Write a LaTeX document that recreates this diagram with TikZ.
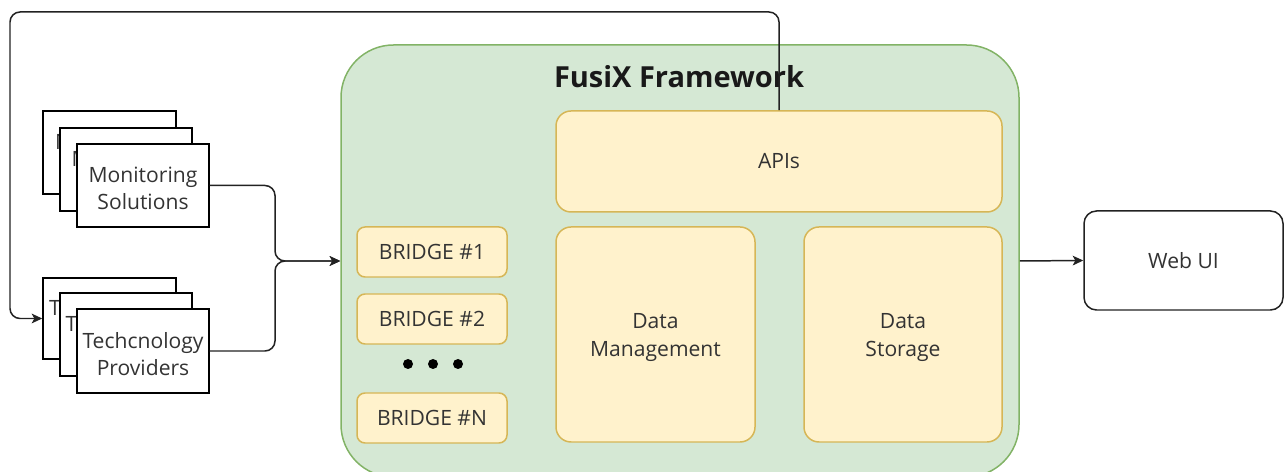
\documentclass[tikz,border=0pt]{standalone}
\usepackage{fontspec}
\setmainfont{Open Sans}
\usetikzlibrary{arrows.meta,fit}
\definecolor{frfill}{HTML}{D5E8D4}
\definecolor{frline}{HTML}{82B366}
\definecolor{ylfill}{HTML}{FFF2CC}
\definecolor{ylline}{HTML}{D6B656}
\definecolor{txt}{HTML}{333333}
\definecolor{ln}{HTML}{222222}
\tikzset{
  frame/.style={draw=frline, fill=frfill, line width=0.85pt, rounded corners=1.05cm, inner sep=0pt},
  ybox/.style={draw=ylline, fill=ylfill, line width=0.85pt, rounded corners=0.3cm, inner sep=0pt},
  bbox/.style={draw=ylline, fill=ylfill, line width=0.85pt, rounded corners=0.16cm, inner sep=0pt},
  sbox/.style={draw=black, fill=white, line width=0.85pt, inner sep=0pt},
  wbox/.style={draw=ln, fill=white, line width=0.85pt, rounded corners=0.25cm, inner sep=0pt},
  lbl/.style={text=txt, align=center, inner sep=0pt, font=\fontsize{12}{15.5}\selectfont},
  lbltwo/.style={lbl, yshift=-0.06cm},
  conn/.style={draw=ln, line width=0.85pt, rounded corners=0.2cm},
  tip/.style={-{Stealth[length=6pt,width=5.5pt,inset=1.5pt]}},
  dotn/.style={circle, fill=black, inner sep=0pt, minimum size=0.2cm},
}
\begin{document}
\begin{tikzpicture}[x=0.02cm,y=-0.02cm]
\useasboundingbox (0,0) rectangle (1284,472);
% framework
\node[frame, fit={(341,45) (1019,477)}] (fw) {};
\node[font=\fontsize{16.5}{20}\selectfont\bfseries, text=black!90] (title) at (679,77) {FusiX Framework};
\node[ybox, fit={(556,111) (1002,212)}, label={[lbl]center:APIs}] (api) {};
\node[ybox, fit={(556,227) (755,442)}, label={[lbltwo]center:{Data\\Management}}] (dm) {};
\node[ybox, fit={(804,227) (1002,442)}, label={[lbltwo]center:{Data\\Storage}}] (ds) {};
\node[bbox, fit={(357,227) (507,277)}, label={[lbl]center:{BRIDGE \#1}}] (b1) {};
\node[bbox, fit={(357,294) (507,344)}, label={[lbl]center:{BRIDGE \#2}}] (b2) {};
\node[bbox, fit={(357,393) (507,443)}, label={[lbl]center:{BRIDGE \#N}}] (bn) {};
\node[dotn] (d1) at (408,364) {};
\node[dotn] (d2) at (433,364) {};
\node[dotn] (d3) at (458,364) {};
% web UI
\node[wbox, fit={(1084,211) (1283,310)}, label={[lbl]center:{Web UI}}] (web) {};
% monitoring stack
\node[sbox, fit={(43,111) (176,194)}, label={[lbltwo]center:{Monitoring\\Solutions}}] (ma) {};
\node[sbox, fit={(60,128) (192,211)}, label={[lbltwo]center:{Monitoring\\Solutions}}] (mb) {};
\node[sbox, fit={(77,144) (209,227)}, label={[lbltwo]center:{Monitoring\\Solutions}}] (mc) {};
% technology stack
\node[sbox, fit={(43,278) (176,359)}, label={[lbltwo]center:{Techcnology\\Providers}}] (ta) {};
\node[sbox, fit={(60,293) (192,376)}, label={[lbltwo]center:{Techcnology\\Providers}}] (tb) {};
\node[sbox, fit={(77,309) (209,393)}, label={[lbltwo]center:{Techcnology\\Providers}}] (tc) {};
% connectors
\coordinate (j) at (275,261);
\draw[conn, tip] (mc.east) -| (j) -- (fw.west);
\draw[conn, tip] (tc.east) -| (j) -- (fw.west);
\draw[conn, tip] (fw.east) -- (web.west);
\coordinate (tl) at (10,12);
\draw[conn, tip] (api.north) |- (tl) |- (ta.west);
\end{tikzpicture}
\end{document}
